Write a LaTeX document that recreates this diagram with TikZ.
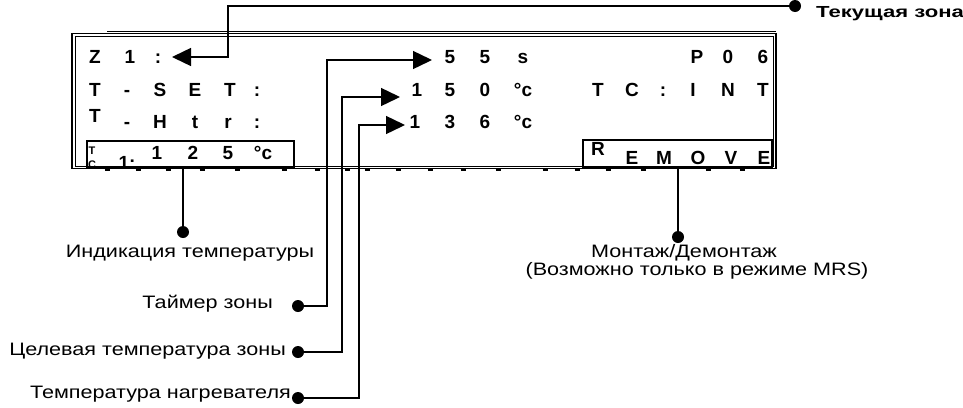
\documentclass[tikz,border=0pt]{standalone}
\usepackage{fontspec}
\usepackage{graphicx}
\setmainfont{Liberation Sans}
\newcommand\wideA[1]{\scalebox{1.2}[1]{#1}}
\newcommand\wideB[1]{\scalebox{1.38}[1]{#1}}
\usetikzlibrary{arrows.meta}
\begin{document}
\begin{tikzpicture}[x=1pt,y=-1pt,
 lcd/.style={font=\bfseries\fontsize{19}{19}\selectfont, inner sep=0, anchor=base},
 lcds/.style={font=\bfseries\fontsize{11}{11}\selectfont, inner sep=0, anchor=base},
 lbl/.style={font=\fontsize{18}{18}\selectfont, inner sep=0},
 lblb/.style={font=\bfseries\fontsize{16}{16}\selectfont, inner sep=0},
 dot/.style={circle, fill=black, inner sep=0, minimum size=12pt},
 conn/.style={line width=1.4pt},
 arr/.style={conn, -{Triangle[length=19pt,width=18pt]}},
 frame/.style={line width=1.3pt},
 tick/.style={line width=2pt}]
\useasboundingbox (0,0) rectangle (963,407);

% display frame
\draw[frame] (72,33.5) rectangle (776,168.5);
\draw[line width=1pt] (75,36) rectangle (773,166.5);
\draw[line width=1pt] (107,31) -- (776,31);
\foreach \tx in {107,138,168,202,237,284,317,347,367,398,430,463,498,545,577,608,643,708,742}
  \draw[tick] (\tx-2.5,170) -- (\tx+2.5,170);

% row 1
\node[lcd] (z) at (95,63) {Z};
\node[lcd] (z1) at (130,63) {1};
\node[lcd] (zc) at (158,63) {:};
\node[lcd] (s1) at (450,63) {5};
\node[lcd] (s2) at (485,63) {5};
\node[lcd] (s3) at (523,63) {s};
\node[lcd] (p1) at (697,63) {P};
\node[lcd] (p2) at (728,63) {0};
\node[lcd] (p3) at (763,63) {6};
% row 2
\node[lcd] (r2a) at (95,96) {T};
\node[lcd] (r2b) at (127,96) {-};
\node[lcd] (r2c) at (160,96) {S};
\node[lcd] (r2d) at (195,96) {E};
\node[lcd] (r2e) at (230,96) {T};
\node[lcd] (r2f) at (257,96) {:};
\node[lcd] (v1) at (417,96) {1};
\node[lcd] (v2) at (450,96) {5};
\node[lcd] (v3) at (485,96) {0};
\node[lcd] (v4) at (523,96) {°c};
\node[lcd] (tc1) at (598,96) {T};
\node[lcd] (tc2) at (632,96) {C};
\node[lcd] (tc3) at (663,96) {:};
\node[lcd] (tc4) at (693,96) {I};
\node[lcd] (tc5) at (728,96) {N};
\node[lcd] (tc6) at (763,96) {T};
% row 3
\node[lcd] (r3a) at (95,122) {T};
\node[lcd] (r3b) at (127,128) {-};
\node[lcd] (r3c) at (160,128) {H};
\node[lcd] (r3d) at (195,128) {t};
\node[lcd] (r3e) at (228,128) {r};
\node[lcd] (r3f) at (257,128) {:};
\node[lcd] (h1) at (415,128) {1};
\node[lcd] (h2) at (450,128) {3};
\node[lcd] (h3) at (485,128) {6};
\node[lcd] (h4) at (523,128) {°c};
% row 4 box
\draw[line width=1.2pt] (87,141) rectangle (294,167);
\begin{scope}
\clip (87,141) rectangle (294,166);
\node[lcds] (sT) at (92,154) {T};
\node[lcds] (sC) at (92,168) {C};
\node[lcd] (s1c) at (127,169) {1:};
\end{scope}
\node[lcd] (t1) at (157,159) {1};
\node[lcd] (t2) at (193,159) {2};
\node[lcd] (t3) at (228,159) {5};
\node[lcd] (t4) at (263,159) {°c};
% remove box
\draw[line width=1.2pt] (583,140) rectangle (772,167);
\node[lcd] (rR) at (598,155) {R};
\begin{scope}
\clip (583,140) rectangle (772,166);
\node[lcd] (rE) at (632,164) {E};
\node[lcd] (rM) at (664,164) {M};
\node[lcd] (rO) at (698,164) {O};
\node[lcd] (rV) at (731,164) {V};
\node[lcd] (rE2) at (764,164) {E};
\end{scope}

% labels
\node[lblb, anchor=base west] (lTek) at (816,17) {\wideB{Текущая зона}};
\node[lbl, anchor=base] (lInd) at (190,257) {\wideA{Индикация температуры}};
\node[lbl, anchor=base east] (lTim) at (273,308) {\wideA{Таймер зоны}};
\node[lbl, anchor=base east] (lTar) at (286,355) {\wideA{Целевая температура зоны}};
\node[lbl, anchor=base east] (lHtr) at (291,398) {\wideA{Температура нагревателя}};
\node[lbl, anchor=base] (lMon) at (684,257) {\wideA{Монтаж/Демонтаж}};
\node[lbl, anchor=base] (lMon2) at (697,275) {\wideA{(Возможно только в режиме MRS)}};

% dots
\node[dot] (dTek) at (795,6) {};
\node[dot] (dInd) at (183,232) {};
\node[dot] (dTim) at (298,306) {};
\node[dot] (dTar) at (298,352) {};
\node[dot] (dHtr) at (298,398) {};
\node[dot] (dRem) at (678,237) {};

% arrow tips
\coordinate (tZ) at (172,57);
\coordinate (tS) at (432,60);
\coordinate (tV) at (400,97);
\coordinate (tH) at (405,125);

% connectors
\draw[arr] (dTek.center) -| (228,57) -- (tZ);
\draw[arr] (dTim.center) -| (327,60) -- (tS);
\draw[arr] (dTar.center) -| (342,97) -- (tV);
\draw[arr] (dHtr.center) -| (359,125) -- (tH);
\draw[conn] (dInd.center) -- (183,168.5);
\draw[conn] (dRem.center) -- (678,168.5);
\end{tikzpicture}
\end{document}
